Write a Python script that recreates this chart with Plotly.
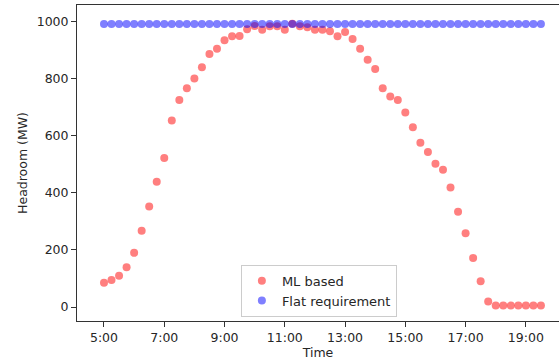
import pandas as pd
import plotly.graph_objects as go

times = pd.date_range("2020-01-01 05:00", "2020-01-01 19:30", freq="15min")

ml_based = [85, 95, 110, 139, 190, 267, 352, 439,
            522, 654, 726, 767, 801, 840, 887, 905,
            935, 949, 950, 974, 985, 972, 984, 984,
            972, 993, 984, 981, 972, 972, 967, 949,
            964, 939, 905, 867, 834, 767, 738, 726,
            682, 630, 576, 543, 502, 481, 419, 334,
            259, 172, 90, 19, 5, 5, 5, 5,
            5, 5, 5]
flat_requirement = [992] * len(times)

y_ticks = [0, 200, 400, 600, 800, 1000]

fig = go.Figure()
fig.add_trace(go.Scatter(
    x=times, y=ml_based, mode="markers", name="ML based",
    marker=dict(color="rgba(255,0,0,0.5)", size=8, line=dict(width=0)),
))
fig.add_trace(go.Scatter(
    x=times, y=flat_requirement, mode="markers", name="Flat requirement",
    marker=dict(color="rgba(0,0,255,0.5)", size=8, line=dict(width=0)),
))

font = dict(family="DejaVu Sans", size=12.5, color="#262626")
fig.update_layout(
    width=559, height=363,
    margin=dict(l=77, r=0, t=5, b=42, autoexpand=False),
    paper_bgcolor="white", plot_bgcolor="white",
    font=font,
    showlegend=True,
    legend=dict(
        x=0.340, y=0.178, xanchor="left", yanchor="top",
        bgcolor="rgba(255,255,255,0.8)", bordercolor="#cccccc", borderwidth=1,
        font=dict(family="DejaVu Sans", size=13, color="#262626"), tracegroupgap=0,
    ),
    xaxis=dict(
        range=["2020-01-01 04:06:15", "2020-01-01 20:06:00"],
        tickformat="%-H:%M", tick0="2020-01-01 05:00", dtick=7200000,
        showgrid=False, zeroline=False,
        showline=True, linecolor="#333", linewidth=1, mirror=True,
        ticks="outside", ticklen=5, tickcolor="#333",
        title=dict(text="Time", font=font, standoff=2),
    ),
    yaxis=dict(
        range=[-49, 1058.6],
        tickvals=y_ticks,
        showgrid=False, zeroline=False,
        showline=True, linecolor="#333", linewidth=1,
        ticks="outside", ticklen=5, tickcolor="#333",
        title=dict(text="Headroom (MW)", font=font, standoff=6),
    ),
)
fig.write_html("out.html")
